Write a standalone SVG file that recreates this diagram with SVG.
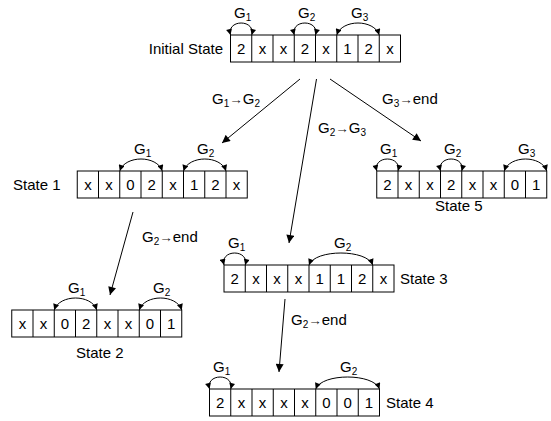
<svg xmlns="http://www.w3.org/2000/svg" width="551" height="421" viewBox="0 0 551 421">
<defs>
<marker id="ah" viewBox="0 0 10 10" refX="10" refY="5" markerWidth="7" markerHeight="6" markerUnits="userSpaceOnUse" orient="auto-start-reverse"><path d="M0,0 L10,5 L0,10 z" fill="#000"/></marker>
<marker id="ac" viewBox="0 0 10 10" refX="10" refY="5" markerWidth="9" markerHeight="8" markerUnits="userSpaceOnUse" orient="auto"><path d="M0,0 L10,5 L0,10 z" fill="#000"/></marker>
</defs>
<style>
text{font-family:"Liberation Sans",Arial,sans-serif;font-size:15px;fill:#000}
.c{text-anchor:middle}
.cell{fill:#fff;stroke:#000;stroke-width:1}
.arc{fill:none;stroke:#000;stroke-width:1;marker-start:url(#ah);marker-end:url(#ah)}
.con{fill:none;stroke:#000;stroke-width:1;marker-end:url(#ac)}
.sub{font-size:10px}
.ar{font-size:13.5px;fill:#222}
</style>

<g id="connectors">
<line class="con" x1="300" y1="79" x2="222" y2="143"/>
<line class="con" x1="316.5" y1="79" x2="289" y2="243"/>
<line class="con" x1="330" y1="79" x2="421" y2="141"/>
<line class="con" x1="133" y1="212" x2="110" y2="295"/>
<line class="con" x1="285" y1="299" x2="279" y2="372"/>
<text x="212" y="104">G<tspan class="sub" dy="3">1</tspan><tspan class="ar" dy="-3">→</tspan>G<tspan class="sub" dy="3">2</tspan></text>
<text x="382" y="104">G<tspan class="sub" dy="3">3</tspan><tspan class="ar" dy="-3">→</tspan>end</text>
<text x="318" y="133">G<tspan class="sub" dy="3">2</tspan><tspan class="ar" dy="-3">→</tspan>G<tspan class="sub" dy="3">3</tspan></text>
<text x="142" y="242">G<tspan class="sub" dy="3">2</tspan><tspan class="ar" dy="-3">→</tspan>end</text>
<text x="291" y="325">G<tspan class="sub" dy="3">2</tspan><tspan class="ar" dy="-3">→</tspan>end</text>
</g>

<g id="initial">
<text x="223" y="54" style="text-anchor:end">Initial State</text>
<rect class="cell" x="230.5" y="35" width="170" height="27"/>
<path d="M251.75,35V62M273,35V62M294.25,35V62M315.5,35V62M336.75,35V62M358,35V62M379.25,35V62" stroke="#000" fill="none"/>
<text class="c" x="241.1" y="54">2</text><text class="c" x="262.4" y="54">x</text><text class="c" x="283.6" y="54">x</text><text class="c" x="304.9" y="54">2</text><text class="c" x="326.1" y="54">x</text><text class="c" x="347.4" y="54">1</text><text class="c" x="368.6" y="54">2</text><text class="c" x="389.9" y="54">x</text>
<path class="arc" d="M230.5,35 C226.5,19 255.75,19 251.75,35"/>
<path class="arc" d="M294.25,35 C290.25,19 319.5,19 315.5,35"/>
<path class="arc" d="M336.75,35 C342,19 374,19 379.25,35"/>
<text x="234" y="18">G<tspan class="sub" dy="3">1</tspan></text>
<text x="298" y="18">G<tspan class="sub" dy="3">2</tspan></text>
<text x="351" y="18">G<tspan class="sub" dy="3">3</tspan></text>
</g>

<g id="state1">
<text x="13" y="190">State 1</text>
<rect class="cell" x="77.25" y="171" width="170" height="27"/>
<path d="M98.5,171V198M119.75,171V198M141,171V198M162.25,171V198M183.5,171V198M204.75,171V198M226,171V198" stroke="#000" fill="none"/>
<text class="c" x="87.9" y="190">x</text><text class="c" x="109.1" y="190">x</text><text class="c" x="130.4" y="190">0</text><text class="c" x="151.6" y="190">2</text><text class="c" x="172.9" y="190">x</text><text class="c" x="194.1" y="190">1</text><text class="c" x="215.4" y="190">2</text><text class="c" x="236.6" y="190">x</text>
<path class="arc" d="M119.75,171 C125,155 157,155 162.25,171"/>
<path class="arc" d="M183.5,171 C188.75,155 220.75,155 226,171"/>
<text x="134" y="154">G<tspan class="sub" dy="3">1</tspan></text>
<text x="197" y="154">G<tspan class="sub" dy="3">2</tspan></text>
</g>

<g id="state5">
<rect class="cell" x="376.75" y="171" width="170" height="27"/>
<path d="M398,171V198M419.25,171V198M440.5,171V198M461.75,171V198M483,171V198M504.25,171V198M525.5,171V198" stroke="#000" fill="none"/>
<text class="c" x="387.4" y="190">2</text><text class="c" x="408.6" y="190">x</text><text class="c" x="429.9" y="190">x</text><text class="c" x="451.1" y="190">2</text><text class="c" x="472.4" y="190">x</text><text class="c" x="493.6" y="190">x</text><text class="c" x="514.9" y="190">0</text><text class="c" x="536.1" y="190">1</text>
<path class="arc" d="M376.75,171 C372.75,155 402,155 398,171"/>
<path class="arc" d="M440.5,171 C436.5,155 465.75,155 461.75,171"/>
<path class="arc" d="M504.25,171 C509.5,155 541.5,155 546.75,171"/>
<text x="380" y="154">G<tspan class="sub" dy="3">1</tspan></text>
<text x="444" y="154">G<tspan class="sub" dy="3">2</tspan></text>
<text x="518" y="154">G<tspan class="sub" dy="3">3</tspan></text>
<text x="435" y="211">State 5</text>
</g>

<g id="state3">
<rect class="cell" x="224" y="265" width="170" height="27"/>
<path d="M245.25,265V292M266.5,265V292M287.75,265V292M309,265V292M330.25,265V292M351.5,265V292M372.75,265V292" stroke="#000" fill="none"/>
<text class="c" x="234.6" y="284">2</text><text class="c" x="255.9" y="284">x</text><text class="c" x="277.1" y="284">x</text><text class="c" x="298.4" y="284">x</text><text class="c" x="319.6" y="284">1</text><text class="c" x="340.9" y="284">1</text><text class="c" x="362.1" y="284">2</text><text class="c" x="383.4" y="284">x</text>
<path class="arc" d="M224,265 C220,249 249.25,249 245.25,265"/>
<path class="arc" d="M309,265 C315,249 366.75,249 372.75,265"/>
<text x="228" y="248">G<tspan class="sub" dy="3">1</tspan></text>
<text x="334" y="248">G<tspan class="sub" dy="3">2</tspan></text>
<text x="400" y="284">State 3</text>
</g>

<g id="state2">
<rect class="cell" x="11.75" y="310" width="170" height="27"/>
<path d="M33,310V337M54.25,310V337M75.5,310V337M96.75,310V337M118,310V337M139.25,310V337M160.5,310V337" stroke="#000" fill="none"/>
<text class="c" x="22.4" y="329">x</text><text class="c" x="43.6" y="329">x</text><text class="c" x="64.9" y="329">0</text><text class="c" x="86.1" y="329">2</text><text class="c" x="107.4" y="329">x</text><text class="c" x="128.6" y="329">x</text><text class="c" x="149.9" y="329">0</text><text class="c" x="171.1" y="329">1</text>
<path class="arc" d="M54.25,310 C59.5,294 91.5,294 96.75,310"/>
<path class="arc" d="M139.25,310 C144.5,294 176.5,294 181.75,310"/>
<text x="68" y="293">G<tspan class="sub" dy="3">1</tspan></text>
<text x="153" y="293">G<tspan class="sub" dy="3">2</tspan></text>
<text x="76" y="358">State 2</text>
</g>

<g id="state4">
<rect class="cell" x="209.5" y="389" width="170" height="27"/>
<path d="M230.75,389V416M252,389V416M273.25,389V416M294.5,389V416M315.75,389V416M337,389V416M358.25,389V416" stroke="#000" fill="none"/>
<text class="c" x="220.1" y="408">2</text><text class="c" x="241.4" y="408">x</text><text class="c" x="262.6" y="408">x</text><text class="c" x="283.9" y="408">x</text><text class="c" x="305.1" y="408">x</text><text class="c" x="326.4" y="408">0</text><text class="c" x="347.6" y="408">0</text><text class="c" x="368.9" y="408">1</text>
<path class="arc" d="M209.5,389 C205.5,373 234.75,373 230.75,389"/>
<path class="arc" d="M315.75,389 C321.75,373 373.5,373 379.5,389"/>
<text x="213" y="372">G<tspan class="sub" dy="3">1</tspan></text>
<text x="340" y="372">G<tspan class="sub" dy="3">2</tspan></text>
<text x="386" y="408">State 4</text>
</g>
</svg>
